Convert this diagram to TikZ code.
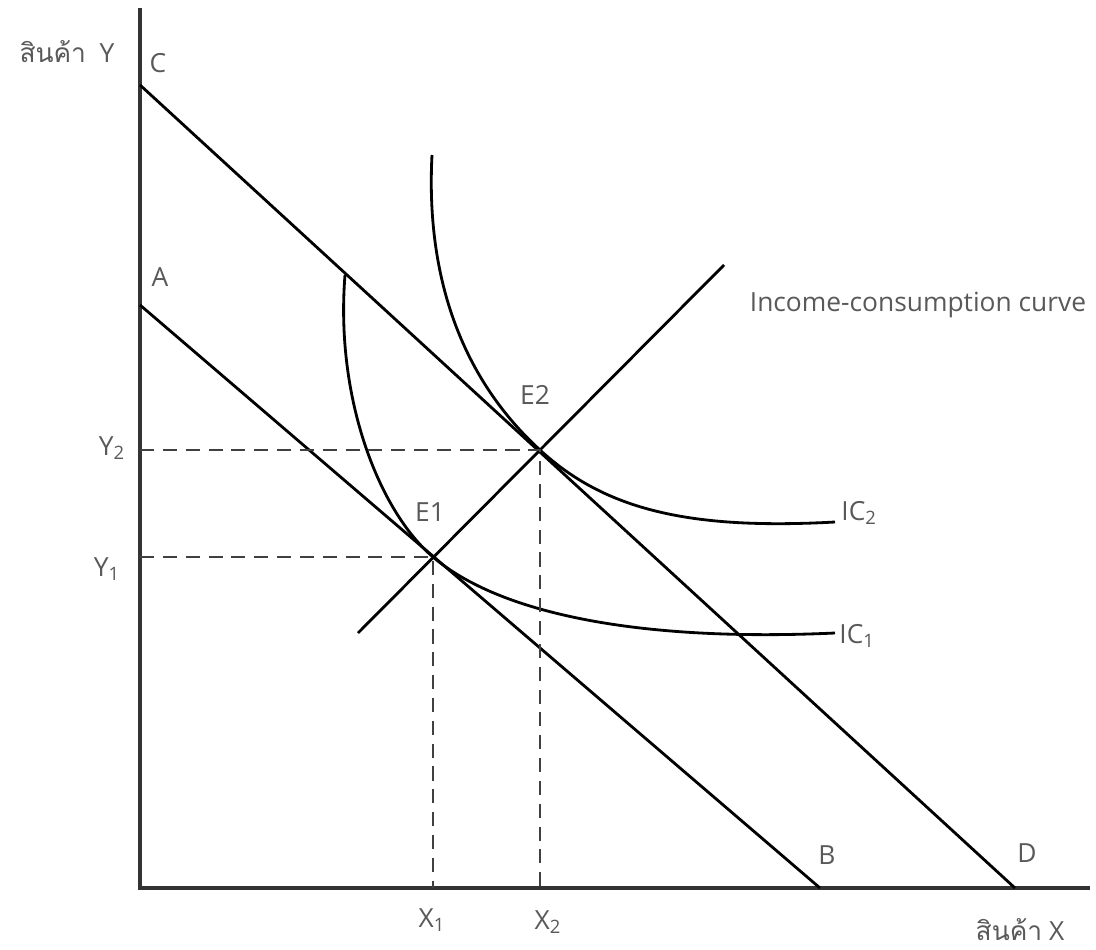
\documentclass[tikz,border=0pt]{standalone}
\usepackage{fontspec}
\setmainfont{Open Sans}
\newfontfamily\thaifont[Script=Thai]{Loma}
\usetikzlibrary{arrows.meta}

\begin{document}
\begin{tikzpicture}[x=0.02cm,y=-0.02cm,line width=1.6pt,
lbl/.style={text=black!65,font=\fontsize{15}{17}\selectfont,inner sep=0pt},
guide/.style={dash pattern=on 8pt off 5pt,line width=1.2pt,black!75}]
\useasboundingbox (0,0) rectangle (1096,950);
\coordinate (O) at (140,888);
\coordinate (Ytop) at (140,8);
\coordinate (Xend) at (1090,888);
\coordinate (C) at (140,85);
\coordinate (D) at (1015,888);
\coordinate (A) at (140,305);
\coordinate (B) at (820,888);
\coordinate (E1) at (433,557);
\coordinate (E2) at (540,450);
\coordinate (icc0) at (358,633);
\coordinate (icc1) at (724,265);
\draw[black!80,line width=1.9pt] (Ytop)--(O)--(Xend);
\draw (C)--(D) (A)--(B) (icc0)--(icc1);
\draw (345,275) coordinate (ic1top) .. controls (335,400) and (380,512) .. (E1)
  .. controls (500,614) and (640,642) .. (835,633) coordinate (ic1end);
\draw (432,155) coordinate (ic2top) .. controls (425,290) and (470,386) .. (E2)
  .. controls (605,510) and (690,530) .. (835,522) coordinate (ic2end);
\draw[guide] (E2 -| O)--(E2)--(E2 |- O);
\draw[guide] (E1 -| O)--(E1)--(E1 |- O);
\node[lbl] (ylab) at (67,52) {{\thaifont สินค้า}\ \ Y};
\node[lbl] (xlab) at (1020,930) {{\thaifont สินค้า} X};
\node[lbl] (Clab) at (158,63) {C};
\node[lbl] (Alab) at (160,277) {A};
\node[lbl] (Blab) at (827,855) {B};
\node[lbl] (Dlab) at (1027,853) {D};
\node[lbl] (Y2lab) at (112,448) {Y\textsubscript{2}};
\node[lbl] (Y1lab) at (107,569) {Y\textsubscript{1}};
\node[lbl] (X1lab) at (432,920) {X\textsubscript{1}};
\node[lbl] (X2lab) at (548,922) {X\textsubscript{2}};
\node[lbl] (E1lab) at (430,512) {E1};
\node[lbl] (E2lab) at (535,395) {E2};
\node[lbl,anchor=west] (IC2lab) at (840,513) {IC\textsubscript{2}};
\node[lbl,anchor=west] (IC1lab) at (838,636) {IC\textsubscript{1}};
\node[lbl] (icclab) at (918,305) {Income-consumption curve};
\end{tikzpicture}
\end{document}
